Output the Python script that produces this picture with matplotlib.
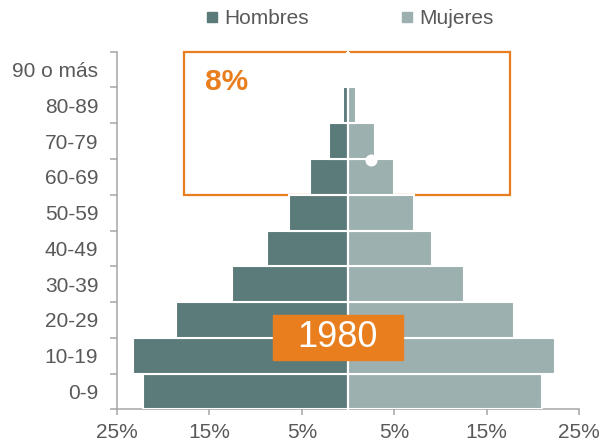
"""
Pirámide de población 1980 (Hombres / Mujeres por grupo de edad).
Output: out.png
"""
import matplotlib
matplotlib.use("Agg")
import matplotlib.pyplot as plt
from matplotlib.lines import Line2D
from matplotlib.patches import Rectangle

# ── Data ─────────────────────────────────────────────────────────────────────
age_groups = ["0-9", "10-19", "20-29", "30-39", "40-49",
              "50-59", "60-69", "70-79", "80-89", "90 o más"]
hombres = [22.2, 23.3, 18.6, 12.6, 8.8, 6.4, 4.1, 2.1, 0.5, 0.1]   # % (left side)
mujeres = [21.0, 22.4, 18.0, 12.6, 9.1, 7.1, 5.0, 2.9, 0.9, 0.1]   # % (right side)
x_ticks = [-25, -15, -5, 5, 15, 25]
year_label = "1980"
highlight_label = "8%"

# ── Style ────────────────────────────────────────────────────────────────────
C_MEN = "#5b7b7a"
C_WOMEN = "#9cb0b0"
C_ORANGE = "#e87e1e"
C_TEXT = "#595959"
C_AXIS = "#a6a6a6"

plt.rcParams["font.family"] = ["Liberation Sans", "DejaVu Sans"]

fig = plt.figure(figsize=(6.02, 4.45), dpi=100)
ax = fig.add_axes([0.1944, 0.0802, 0.7674, 0.8036])

y = list(range(len(age_groups)))
ax.barh(y, [-v for v in hombres], height=1.0, color=C_MEN,
        edgecolor="white", linewidth=1.5, zorder=3)
ax.barh(y, mujeres, height=1.0, color=C_WOMEN,
        edgecolor="white", linewidth=1.5, zorder=3)

ax.set_xlim(-25, 25)
ax.set_ylim(-0.5, len(age_groups) - 0.5)

# highlight frame for the older age groups
frame = Rectangle((-17.8, 5.5), 35.3, 4.0, fill=False, edgecolor=C_ORANGE,
                  linewidth=1.6, zorder=2, clip_on=False)
ax.add_patch(frame)
ax.axvline(0, color="white", linewidth=1.5, zorder=4, clip_on=False)
ax.text(-15.5, 8.65, highlight_label, color=C_ORANGE, fontsize=21.5,
        fontweight="bold", ha="left", va="center", zorder=5)
ax.scatter([2.5], [6.47], s=75, color="white", zorder=6, linewidths=0)

# year label
ax.add_patch(Rectangle((-8.1, 0.87), 14.0, 1.27, color=C_ORANGE, zorder=5))
ax.text(-1.1, 1.5, year_label, color="white", fontsize=26,
        ha="center", va="center", zorder=6)

# ── Axes ─────────────────────────────────────────────────────────────────────
for s in ["top", "right"]:
    ax.spines[s].set_visible(False)
for s in ["left", "bottom"]:
    ax.spines[s].set_color(C_AXIS)
    ax.spines[s].set_linewidth(1.1)

ax.set_yticks(y)
ax.set_yticklabels(age_groups)
ax.set_yticks([i - 0.5 for i in range(len(age_groups) + 1)], minor=True)
ax.tick_params(axis="y", which="major", length=0, pad=13.5,
               labelsize=15, labelcolor=C_TEXT)
ax.tick_params(axis="y", which="minor", length=5, width=1.1, color=C_AXIS)

ax.set_xticks(x_ticks)
ax.set_xticklabels([f"{abs(t)}%" for t in x_ticks])
ax.tick_params(axis="x", which="major", length=4.5, width=1.1, color=C_AXIS,
               pad=5, labelsize=15, labelcolor=C_TEXT)

# ── Legend ───────────────────────────────────────────────────────────────────
handles = [
    Line2D([], [], marker="s", linestyle="none", markersize=6.5,
           color=C_MEN, label="Hombres"),
    Line2D([], [], marker="s", linestyle="none", markersize=6.5,
           color=C_WOMEN, label="Mujeres"),
]
leg = fig.legend(handles=handles, loc="center", ncol=2,
                 bbox_to_anchor=(350 / 602, 1 - 19 / 445), frameon=False,
                 fontsize=15, handlelength=0.6, handletextpad=0.3,
                 columnspacing=4.4, borderpad=0)
for t in leg.get_texts():
    t.set_color(C_TEXT)

fig.savefig("out.png", dpi=100)
